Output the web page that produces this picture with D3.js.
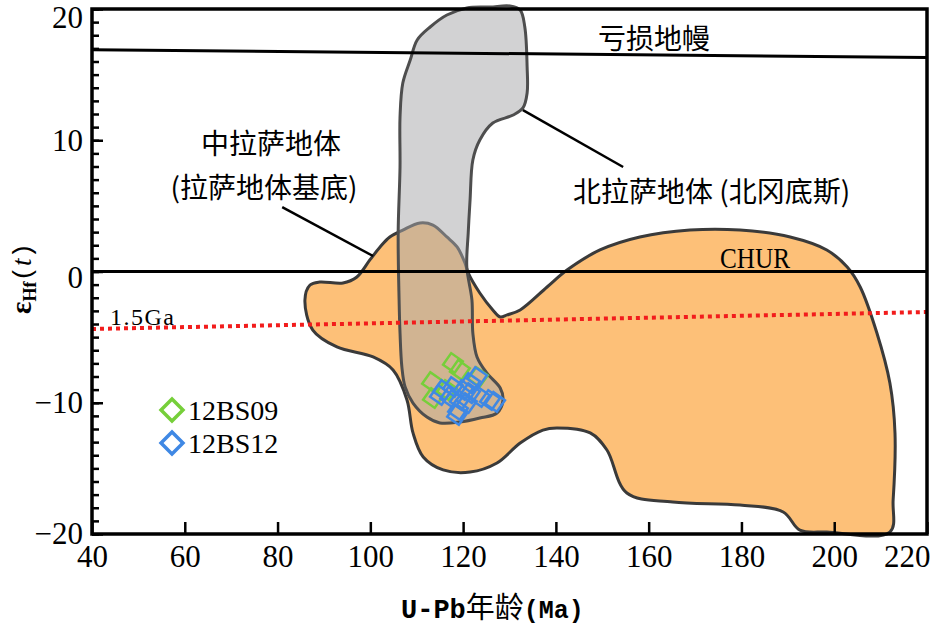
<!DOCTYPE html>
<html><head><meta charset="utf-8">
<script src="https://cdn.jsdelivr.net/npm/d3@7"></script>
<style>body{margin:0;background:#fff}svg{display:block}</style>
</head><body><svg id="c" width="945" height="633"></svg>
<script>
// ---- data ----
const xDomain = [40, 220];
const yDomain = [-20, 20];
const xTicks = [40, 60, 80, 100, 120, 140, 160, 180, 200, 220];
const yMajorTicks = [-20, -10, 0, 10, 20];
const yMinorTicks = d3.range(-20, 21, 1);

// reference lines [age, eHf]
const depletedMantle = [[40, 16.9], [220, 16.3]];
const churLine = [[40, 0], [220, 0]];
const crust15Ga = [[40, -4.38], [220, -3.09]];

// 中拉萨地体 (拉萨地体基底) field outline [age, eHf]
const centralLhasa = [
  [87.0,-1.03],[89.1,-0.80],[94.1,-0.88],[97.1,-0.42],[99.9,0.88],[102.1,1.87],[104.2,2.63],
  [107.0,3.16],[110.7,3.70],[113.5,3.54],[116.5,2.63],[118.7,1.87],[120.4,0.65],[121.1,-0.11],
  [123.6,-1.64],[126.4,-2.93],[128.0,-3.47],[129.5,-3.31],[132.3,-2.93],[138.1,-1.18],[142.4,0.11],
  [149.5,1.64],[158.1,2.63],[168.9,3.16],[179.7,3.16],[190.5,2.63],[198.4,1.64],[202.8,0.34],
  [205.6,-1.18],[209.2,-4.69],[212.0,-8.50],[213.1,-12.30],[212.7,-17.41],[212.0,-19.85],
  [198.4,-19.85],[192.6,-19.70],[189.0,-18.32],[179.7,-17.79],[165.2,-17.56],[155.3,-16.88],
  [151.0,-13.60],[147.4,-12.30],[140.2,-11.92],[137.2,-12.08],[132.3,-13.07],[127.3,-14.59],
  [121.5,-15.28],[115.7,-15.12],[111.4,-14.13],[109.2,-12.30],[107.9,-9.79],[104.9,-7.50],
  [100.6,-6.51],[92.8,-5.75],[87.6,-4.46],[85.9,-2.17]
];

// 北拉萨地体 (北冈底斯) field outline [age, eHf]
const northLhasa = [
  [132.3,19.92],[133.3,18.63],[133.8,15.58],[133.8,13.6],[132.9,12.46],[130.8,11.92],[126.4,11.31],
  [123.6,10.02],[122.1,8.50],[121.5,5.45],[121.1,2.93],[120.8,0.34],[121.9,-2.17],[122.1,-4.69],
  [123.0,-6.51],[125.1,-7.73],[128.0,-8.88],[128.6,-9.79],[127.3,-10.78],[123.6,-11.16],
  [119.3,-11.47],[115.0,-11.54],[112.2,-11.09],[109.2,-10.02],[107.5,-8.80],[106.8,-7.28],
  [106.4,-4.69],[106.2,-2.17],[106.0,2.93],[106.4,7.96],[106.4,11.77],[107.0,14.36],[108.6,16.11],
  [110.1,17.64],[112.9,18.63],[116.5,19.54],[120.8,20.08],[125.8,20.15],[130.1,20.23]
];

// samples [age, eHf]
const sample12BS09 = [[117.8,-6.97],[113.3,-8.42],[113.5,-9.64],[123.2,-8.04],[119.3,-7.50],[116.5,-9.03]];
const sample12BS12 = [[115.7,-9.03],[117.8,-8.80],[119.3,-9.79],[121.5,-8.50],[123.0,-8.04],[123.6,-9.56],
  [118.9,-10.55],[118.7,-10.93],[120.8,-10.02],[125.8,-9.79],[126.9,-9.94],[117.2,-9.56],
  [115.0,-9.41],[121.5,-9.26],[120.0,-9.03]];

// leader lines
const leaderCentral = [[81.0, 4.91], [100.6, 1.18]];
const leaderNorth = [[132.9, 12.3], [154.5, 7.96]];

const legendItems = [
  {name: "12BS09", color: "#76cf3a"},
  {name: "12BS12", color: "#3f88e4"}
];

// ---- layout ----
const L = 92, R = 927, T = 9, B = 534;
const svg = d3.select("#c");
const x = d3.scaleLinear().domain(xDomain).range([L, R]);
const y = d3.scaleLinear().domain(yDomain).range([B, T]);
const serif = "'Liberation Serif','Times New Roman',serif";
const cjk = "'Noto Sans CJK SC','Noto Sans',sans-serif";
const mono = "'Liberation Mono','DejaVu Sans Mono',monospace";

const area = d3.line().x(d => x(d[0])).y(d => y(d[1])).curve(d3.curveCatmullRomClosed.alpha(0.5));
const straight = d3.line().x(d => x(d[0])).y(d => y(d[1]));

// fields
svg.append("path").attr("d", area(centralLhasa))
  .attr("fill", "#fdc078").attr("stroke", "#3a3a3a").attr("stroke-width", 3);
svg.append("path").attr("d", area(northLhasa))
  .attr("fill", "#a9a9ab").attr("fill-opacity", 0.52)
  .attr("stroke", "#4e4e4e").attr("stroke-width", 3);

// reference lines
svg.append("path").attr("d", straight(depletedMantle)).attr("stroke", "#000").attr("stroke-width", 3).attr("fill", "none");
svg.append("path").attr("d", straight(churLine)).attr("stroke", "#000").attr("stroke-width", 3).attr("fill", "none");
svg.append("path").attr("d", straight(crust15Ga)).attr("stroke", "#f21c1c").attr("stroke-width", 4)
  .attr("stroke-dasharray", "4,4").attr("fill", "none");

// leader lines
[leaderCentral, leaderNorth].forEach(l =>
  svg.append("path").attr("d", straight(l)).attr("stroke", "#000").attr("stroke-width", 2.5).attr("fill", "none"));

// samples
const sq = d3.symbol().type(d3.symbolSquare).size(200);
function drawSamples(data, color) {
  svg.append("g").selectAll("path").data(data).join("path")
    .attr("d", sq)
    .attr("transform", d => `translate(${x(d[0])},${y(d[1])}) rotate(35)`)
    .attr("fill", "none").attr("stroke", color).attr("stroke-width", 2.5);
}
drawSamples(sample12BS09, legendItems[0].color);
drawSamples(sample12BS12, legendItems[1].color);

// axes
const gx = svg.append("g").attr("transform", `translate(0,${B})`)
  .call(d3.axisBottom(x).tickValues(xTicks).tickSize(-12).tickSizeOuter(0).tickPadding(11).tickFormat(d3.format("d")));
gx.select(".domain").remove();
gx.selectAll("line").attr("stroke-width", 2.5);
gx.selectAll("text").attr("font-family", serif).attr("font-size", 31).attr("fill", "#000");
gx.selectAll(".tick").filter(d => d === 220).select("text").attr("text-anchor", "end").attr("x", 3);

const gyMinor = svg.append("g").attr("transform", `translate(${L},0)`)
  .call(d3.axisLeft(y).tickValues(yMinorTicks).tickSize(-7).tickSizeOuter(0).tickFormat(""));
gyMinor.select(".domain").remove();
gyMinor.selectAll("line").attr("stroke-width", 2.5);

const gy = svg.append("g").attr("transform", `translate(${L},0)`)
  .call(d3.axisLeft(y).tickValues(yMajorTicks).tickSize(-11).tickSizeOuter(0).tickPadding(9).tickFormat(d3.format("d")));
gy.select(".domain").remove();
gy.selectAll("line").attr("stroke-width", 2.5);
gy.selectAll("text").attr("font-family", serif).attr("font-size", 31).attr("fill", "#000");
gy.selectAll(".tick").filter(d => d === 20).select("text").attr("dy", "0.6em");
gy.selectAll(".tick").filter(d => d === 0).select("text").attr("dy", "0.5em");

// frame
svg.append("rect").attr("x", L).attr("y", T).attr("width", R - L).attr("height", B - T)
  .attr("fill", "none").attr("stroke", "#000").attr("stroke-width", 3.5);

// axis titles
svg.append("text").attr("x", 401).attr("y", 618).attr("fill", "#000")
  .call(t => {
    t.append("tspan").attr("font-family", mono).attr("font-size", 27).attr("font-weight", "bold").text("U-Pb");
    t.append("tspan").attr("font-family", cjk).attr("font-size", 29).text("年龄");
    t.append("tspan").attr("font-family", mono).attr("font-size", 25).attr("font-weight", "bold").text("(Ma)");
  });

svg.append("text").attr("transform", "translate(31,314) rotate(-90)").attr("fill", "#000")
  .call(t => {
    t.append("tspan").attr("font-family", serif).attr("font-size", 29).attr("font-weight", "bold").text("ε");
    t.append("tspan").attr("font-family", serif).attr("font-size", 18).attr("font-weight", "bold").attr("dy", 5).text("Hf");
    t.append("tspan").attr("font-family", mono).attr("font-size", 26).attr("dy", -5).text("(");
    t.append("tspan").attr("font-family", serif).attr("font-size", 27).attr("font-style", "italic").text("t");
    t.append("tspan").attr("font-family", mono).attr("font-size", 26).text(")");
  });

// annotations
function label(txt, px, py, size, anchor, family) {
  return svg.append("text").attr("x", px).attr("y", py).attr("font-family", family || cjk)
    .attr("font-size", size).attr("text-anchor", anchor || "middle")
    .attr("dominant-baseline", "central").attr("fill", "#000").text(txt);
}
label("亏损地幔", 654, 37, 28);
label("中拉萨地体", 271, 142, 28);
label("(拉萨地体基底)", 264, 186, 28);
label("北拉萨地体 (北冈底斯)", 573, 190, 28, "start");
svg.append("text").attr("x", 720).attr("y", 268).attr("font-family", serif).attr("font-size", 30)
  .attr("textLength", 70).attr("lengthAdjust", "spacingAndGlyphs").attr("fill", "#000").text("CHUR");
svg.append("text").attr("x", 110).attr("y", 325).attr("font-family", serif).attr("font-size", 24)
  .attr("textLength", 64).attr("lengthAdjust", "spacing")
  .attr("fill", "#000").text("1.5Ga");

// legend
const lg = svg.append("g");
legendItems.forEach((it, i) => {
  const cy = 410 + i * 33;
  lg.append("path").attr("d", d3.symbol().type(d3.symbolSquare).size(240)())
    .attr("transform", `translate(172,${cy}) rotate(45)`)
    .attr("fill", "none").attr("stroke", it.color).attr("stroke-width", 3.5);
  lg.append("text").attr("x", 188).attr("y", cy + 10).attr("font-family", serif).attr("font-size", 28)
    .attr("fill", "#000").text(it.name);
});
</script></body></html>
